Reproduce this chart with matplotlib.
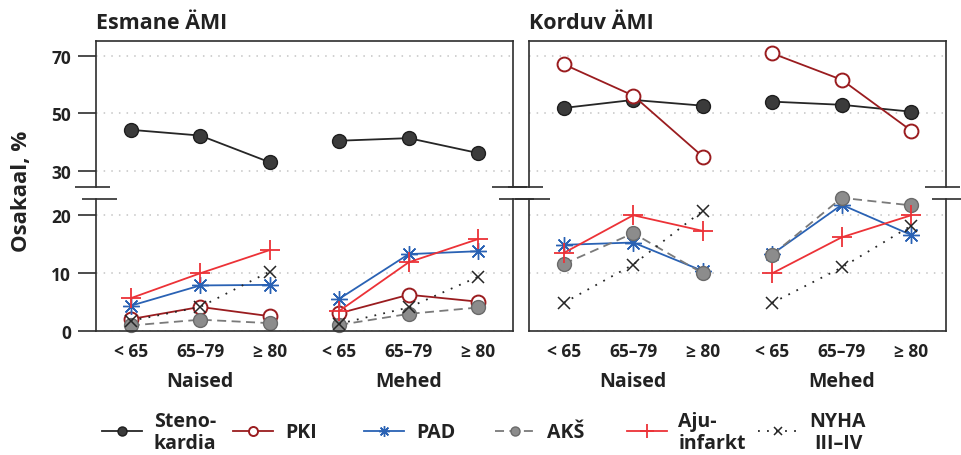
import matplotlib.pyplot as plt
from matplotlib.transforms import blended_transform_factory

plt.rcParams['font.family'] = ['Open Sans', 'DejaVu Sans']
plt.rcParams['font.weight'] = 'bold'
plt.rcParams['text.color'] = '#222222'

panels = ['Esmane ÄMI', 'Korduv ÄMI']
age_groups = ['< 65', '65–79', '≥ 80']
sexes = ['Naised', 'Mehed']

# shares in %, order: Naised (<65, 65-79, >=80), Mehed (<65, 65-79, >=80)
stenokardia_esmane = [44.3, 42.3, 33.0, 40.5, 41.4, 36.2]
stenokardia_korduv = [51.9, 54.7, 52.7, 54.1, 53.0, 50.6]
pki_esmane = [2.0, 4.1, 2.5, 3.0, 6.2, 5.0]
pki_korduv = [67.1, 56.2, 35.0, 70.9, 61.7, 44.0]
pad_esmane = [4.3, 7.8, 7.9, 5.5, 13.2, 13.7]
pad_korduv = [14.8, 15.2, 10.3, 13.2, 21.7, 16.5]
aks_esmane = [0.9, 1.9, 1.3, 1.0, 2.9, 4.0]
aks_korduv = [11.5, 16.8, 9.9, 13.1, 22.9, 21.6]
aju_esmane = [5.6, 9.9, 13.9, 3.4, 11.8, 15.8]
aju_korduv = [13.4, 19.9, 17.2, 9.9, 16.1, 19.9]
nyha_esmane = [1.7, 4.1, 10.2, 1.2, 4.0, 9.3]
nyha_korduv = [4.8, 11.4, 20.7, 4.8, 10.9, 18.1]

series = [
    ('Steno-\nkardia', stenokardia_esmane, stenokardia_korduv,
     dict(color='#262626', ls='-', marker='o', mfc='#3b3b3b', mec='#1e1e1e', ms=10, mew=1.0)),
    ('PKI', pki_esmane, pki_korduv,
     dict(color='#9a1c1f', ls='-', marker='o', mfc='white', mec='#9a1c1f', ms=10, mew=1.4)),
    ('PAD', pad_esmane, pad_korduv,
     dict(color='#2a62b4', ls='-', marker=(8, 2, 0), ms=12, mew=1.0)),
    ('AKŠ', aks_esmane, aks_korduv,
     dict(color='#7a7a7a', ls=(0, (5, 3)), marker='o', mfc='#8c8c8c', mec='#6a6a6a', ms=10, mew=1.0)),
    ('Aju-\ninfarkt', aju_esmane, aju_korduv,
     dict(color='#ec3237', ls='-', marker='+', ms=15, mew=1.3)),
    ('NYHA\nIII–IV', nyha_esmane, nyha_korduv,
     dict(color='#262626', ls=(0, (1, 4)), marker='x', ms=9, mew=1.1)),
]

# layout in pixels
W, H = 961, 456
panel_x = [96, 529]
panel_w = 417
upper_top, upper_bot = 42, 188
lower_top, lower_bot = 200, 331.7
break_value = 24  # values above this go to the upper (compressed) part


def frac(x0, y_top, w, h):
    return [x0 / W, 1 - (y_top + h) / H, w / W, h / H]


fig = plt.figure(figsize=(W / 100, H / 100), dpi=100)
edge = '#2e2e2e'

for p, x0 in enumerate(panel_x):
    ax_up = fig.add_axes(frac(x0, upper_top, panel_w, upper_bot - upper_top))
    ax_lo = fig.add_axes(frac(x0, lower_top, panel_w, lower_bot - lower_top))
    ax_up.set_ylim(24.4, 75.2)
    ax_lo.set_ylim(0, 22.7)
    for ax in (ax_up, ax_lo):
        ax.set_xlim(-0.5, 5.5)
        for s in ax.spines.values():
            s.set_color(edge)
            s.set_linewidth(1.2)
        ax.yaxis.grid(True, ls=(0, (1, 4)), color='#c4c4c4', lw=1.1)
        ax.set_axisbelow(True)
        ax.tick_params(axis='y', length=13, width=1.2, color=edge, pad=5,
                       labelsize=12.5, labelcolor='#222222')
        if p == 1:
            ax.tick_params(axis='y', left=False, labelleft=False)
    ax_up.spines['bottom'].set_visible(False)
    ax_lo.spines['top'].set_visible(False)
    ax_up.set_yticks([30, 50, 70])
    ax_lo.set_yticks([0, 10, 20])
    ax_up.set_xticks([])
    ax_lo.set_xticks(range(6))
    ax_lo.set_xticklabels(age_groups * 2)
    ax_lo.tick_params(axis='x', length=0, pad=8, labelsize=12.5, labelcolor='#222222')

    trans = blended_transform_factory(ax_lo.transData, ax_lo.transAxes)
    for k, sex in enumerate(sexes):
        ax_lo.text(1 + 3 * k, -0.38, sex, transform=trans, ha='center', va='center',
                   fontsize=14)

    for label, v_esm, v_kor, style in series:
        vals = v_esm if p == 0 else v_kor
        upper = min(vals) > break_value
        ax = ax_up if upper else ax_lo
        for k in range(2):
            xs = [3 * k, 3 * k + 1, 3 * k + 2]
            ax.plot(xs, vals[3 * k:3 * k + 3], lw=1.3, clip_on=upper, **style)

    fig.text(x0 / W, 1 - 24 / H, panels[p], ha='left', va='center', fontsize=15.5)

fig.text(22 / W, 1 - 191 / H, 'Osakaal, %', rotation=90, ha='center', va='center',
         fontsize=16)

# overlay in pixel coordinates for axis break marks and legend
ov = fig.add_axes([0, 0, 1, 1], zorder=5)
ov.set_xlim(0, W)
ov.set_ylim(H, 0)
ov.axis('off')

for x0 in panel_x:
    for xe in (x0, x0 + panel_w):
        ov.plot([xe - 21, xe + 14], [upper_bot, upper_bot], color=edge, lw=1.2,
                solid_capstyle='butt', clip_on=False)
        ov.plot([xe - 14, xe + 21], [lower_top, lower_top], color=edge, lw=1.2,
                solid_capstyle='butt', clip_on=False)

leg_y = 432
for i, (label, _, _, style) in enumerate(series):
    hx = 101.7 + 131.2 * i
    st = dict(style)
    st['ms'] = style['ms'] * 0.65
    ov.plot([hx, hx + 40], [leg_y, leg_y], color=st['color'], ls=st['ls'], lw=1.3)
    st.pop('ls')
    ov.plot([hx + 20], [leg_y], ls='none', **st)
    align = 'center' if label.startswith('NYHA') else 'left'
    ov.text(hx + 52, leg_y + 1, label, ha='left', va='center', fontsize=14,
            linespacing=1.15, multialignment=align)

fig.savefig('out.png', dpi=100)
